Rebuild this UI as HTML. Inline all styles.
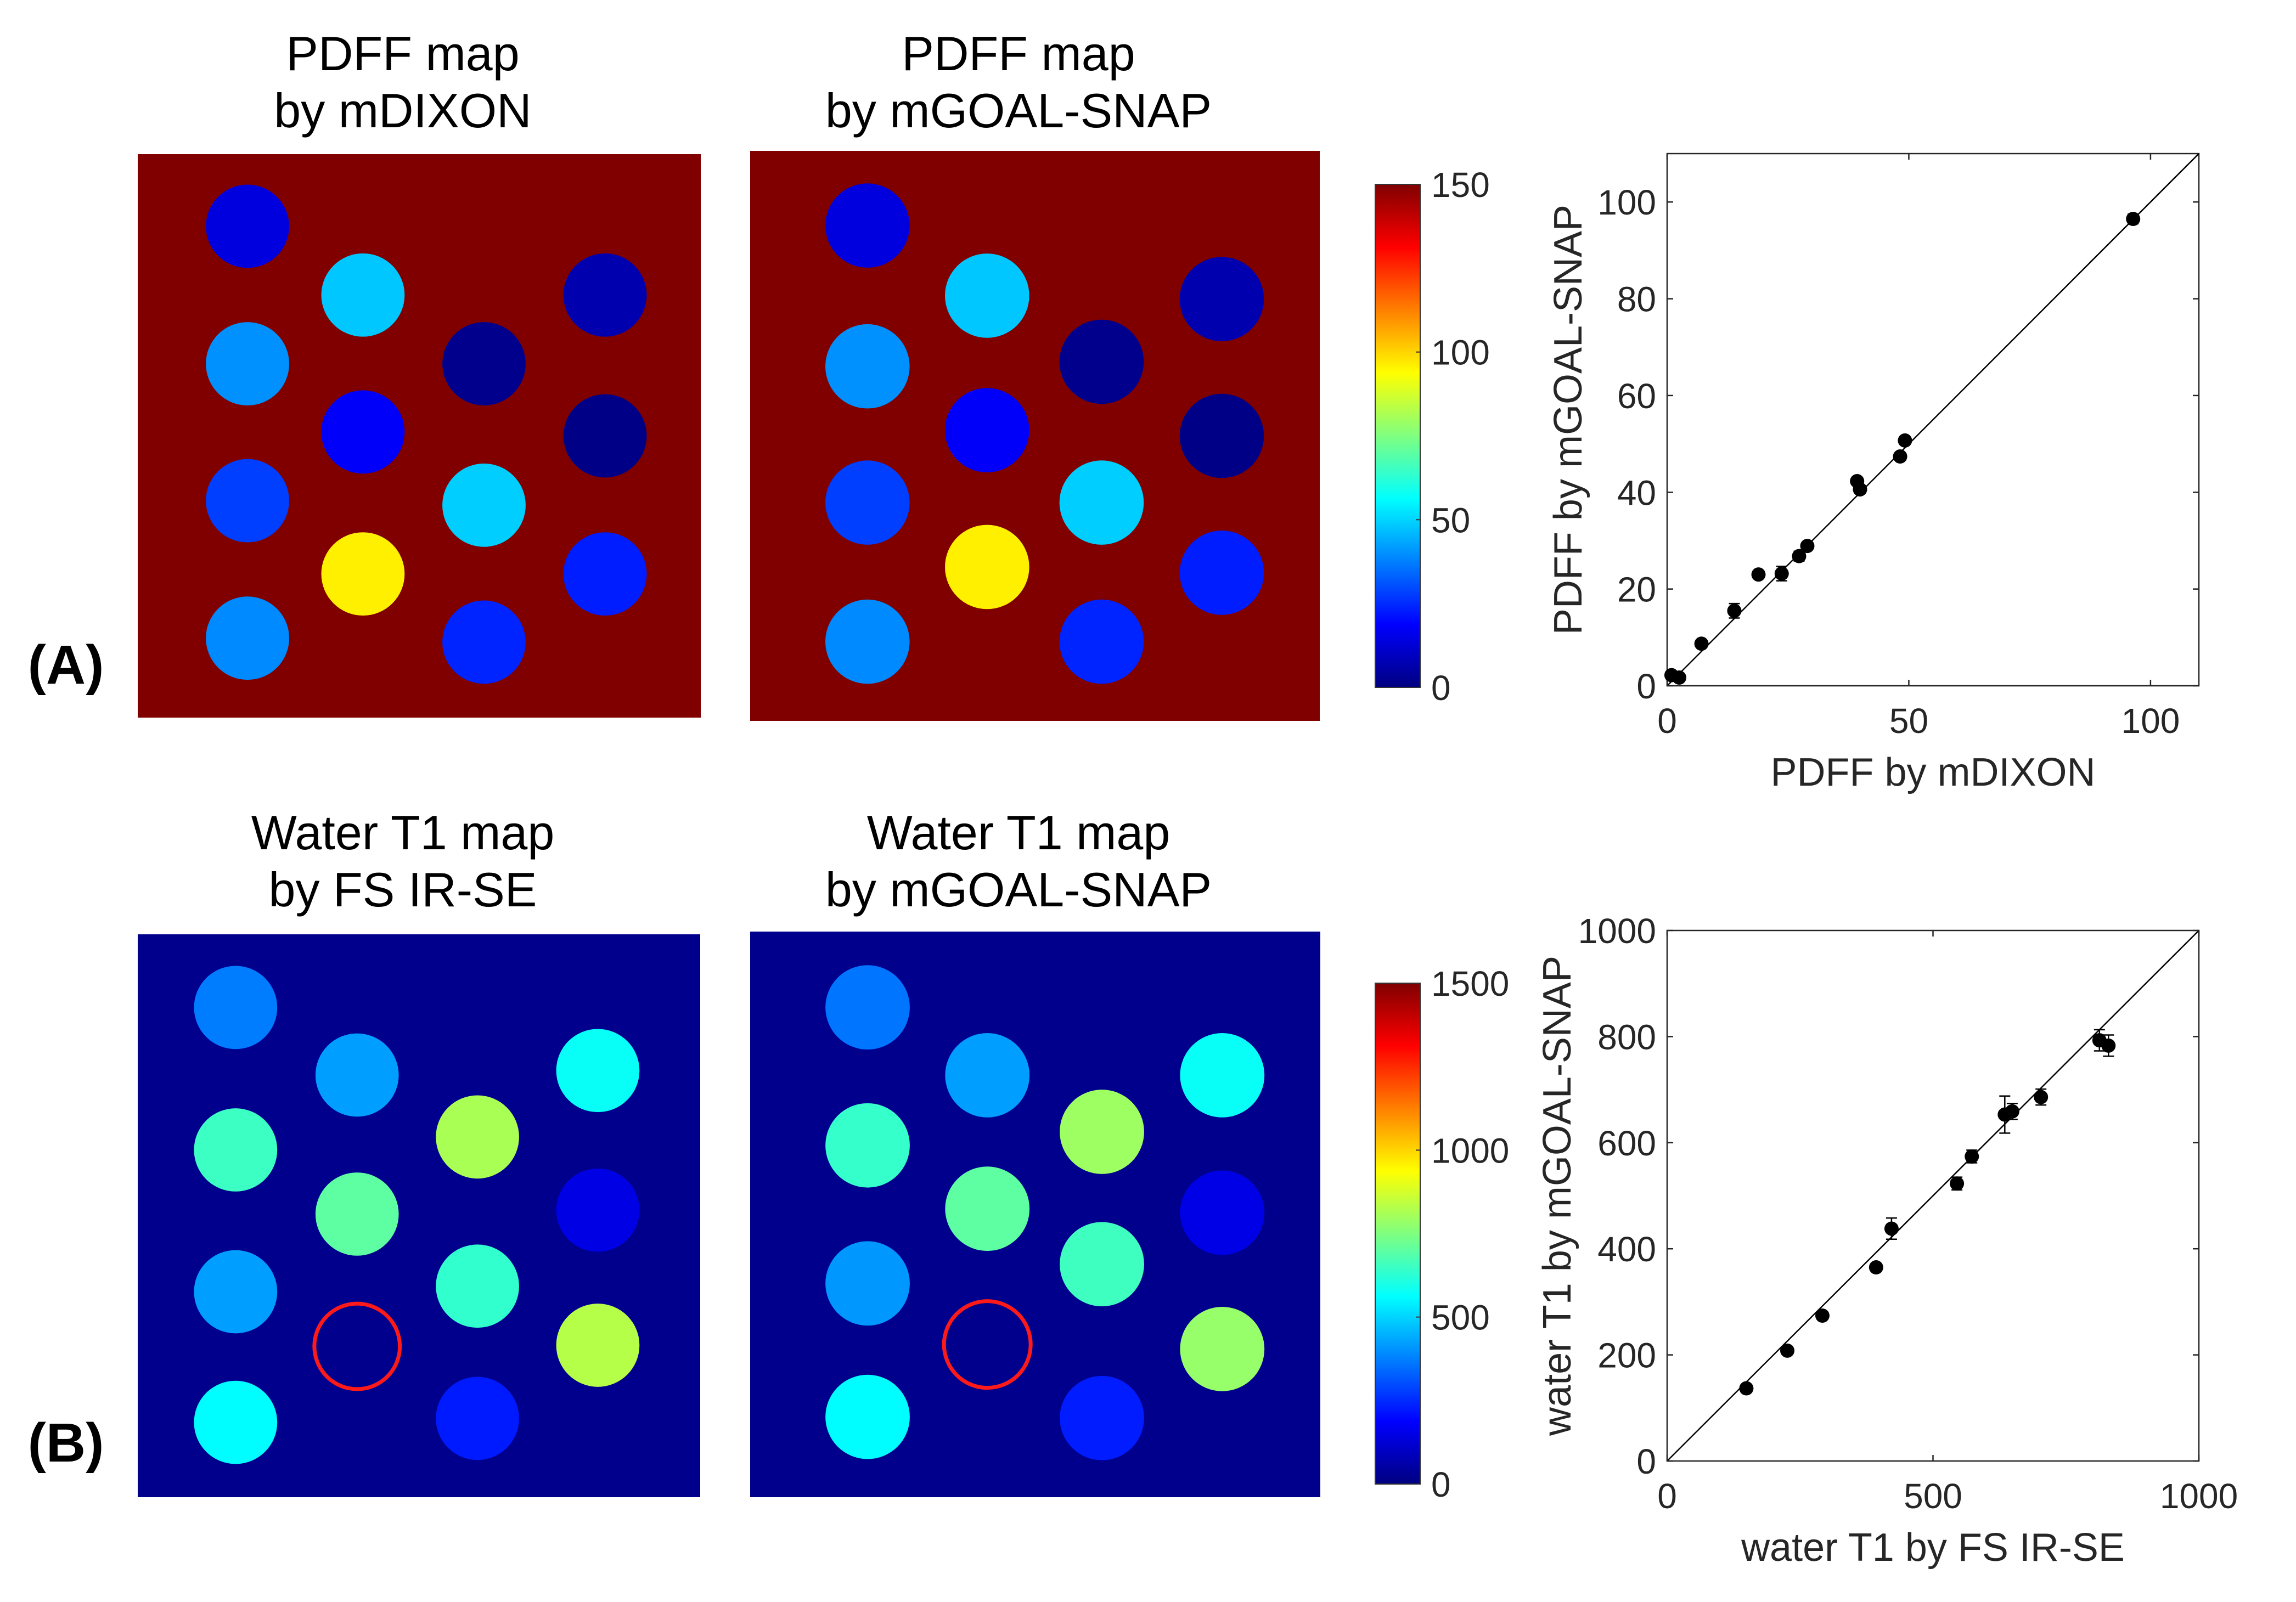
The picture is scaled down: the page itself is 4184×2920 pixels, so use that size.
<!DOCTYPE html>
<html><head><meta charset="utf-8"><style>
html,body{margin:0;padding:0;background:#fff}
svg{display:block;font-family:"Liberation Sans",sans-serif}
</style></head><body>
<svg id="fig" width="4184" height="2920" viewBox="0 0 4184 2920" xmlns="http://www.w3.org/2000/svg">
<defs>
<linearGradient id="jet" x1="0" y1="1" x2="0" y2="0">
<stop offset="0" stop-color="#000080"/><stop offset="0.125" stop-color="#0000ff"/><stop offset="0.375" stop-color="#00ffff"/><stop offset="0.625" stop-color="#ffff00"/><stop offset="0.875" stop-color="#ff0000"/><stop offset="1" stop-color="#800000"/>
</linearGradient>
</defs>
<g font-size="88" fill="#000" text-anchor="middle">
<text x="734" y="128">PDFF map</text>
<text x="734" y="232">by mDIXON</text>
<text x="1856" y="128">PDFF map</text>
<text x="1856" y="232">by mGOAL-SNAP</text>
<text x="734" y="1548">Water T1 map</text>
<text x="734" y="1652">by FS IR-SE</text>
<text x="1856" y="1548">Water T1 map</text>
<text x="1856" y="1652">by mGOAL-SNAP</text>
</g>
<text x="120" y="1246" font-size="100" font-weight="bold" text-anchor="middle">(A)</text>
<text x="120" y="2664" font-size="100" font-weight="bold" text-anchor="middle">(B)</text>
<g id="maps"></g>
<g id="colorbars"></g>
<g id="plots"></g>
</svg>
<script>
// ---- phantom map values ----
const pdffMdixon = [14, 40, 28, 39, 48, 18, 96, 2, 49, 24, 7, 1, 23];
const pdffMgoal  = [14, 40, 28, 39, 48, 18, 96, 2, 49, 24, 7, 1, 23];
const t1Fsirse   = [370, 650, 420, 560, 420, 700, 813, 635, 226, 573, 149, 830];
const t1Mgoal    = [360, 640, 410, 560, 420, 700, 793, 655, 228, 573, 150, 783];
// ---- scatter data ----
const pdffX   = [0.9, 2.5, 7.1, 13.9, 18.9, 23.7, 27.3, 29.0, 39.3, 39.9, 48.2, 49.2, 96.4];
const pdffY   = [2.2, 1.7, 8.7, 15.5, 23.0, 23.2, 26.8, 28.9, 42.3, 40.6, 47.4, 50.7, 96.5];
const pdffErr = [0.5, 0.5, 0.8, 1.5, 0.7, 1.5, 1.0, 0.7, 0.6, 0.6, 0.6, 0.6, 1.0];
const t1X   = [149, 226, 292, 393, 422, 545, 573, 635, 649, 703, 813, 830];
const t1Y   = [137, 208, 274, 365, 438, 523, 574, 653, 659, 686, 793, 783];
const t1Err = [5, 5, 5, 6, 20, 12, 12, 35, 15, 15, 20, 20];
const pdffTicksX = [0, 50, 100];
const pdffTicksY = [0, 20, 40, 60, 80, 100];
const t1TicksX = [0, 500, 1000];
const t1TicksY = [0, 200, 400, 600, 800, 1000];
const cbTicksA = [0, 50, 100, 150];
const cbTicksB = [0, 500, 1000, 1500];

const NS = 'http://www.w3.org/2000/svg';
function mk(tag, attrs, parent){ const e=document.createElementNS(NS,tag); for(const k in attrs) e.setAttribute(k,attrs[k]); parent.appendChild(e); return e; }
function jet(v){
  v=Math.max(0,Math.min(1,v));
  const c=x=>Math.round(255*Math.max(0,Math.min(1,x)));
  const r=c(Math.min(4*v-1.5,-4*v+4.5)), g=c(Math.min(4*v-0.5,-4*v+3.5)), b=c(Math.min(4*v+0.5,-4*v+2.5));
  return `rgb(${r},${g},${b})`;
}
const mapsG=document.getElementById('maps');
const layoutA1=[[.195,.128],[.195,.372],[.195,.615],[.195,.859],[.40,.25],[.40,.493],[.40,.745],[.615,.372],[.615,.623],[.615,.866],[.83,.25],[.83,.50],[.83,.745]];
const layoutA2=[[.206,.131],[.206,.378],[.206,.617],[.206,.861],[.416,.254],[.416,.49],[.416,.73],[.617,.37],[.617,.617],[.617,.861],[.828,.26],[.828,.50],[.828,.74]];
const layoutB1=[[.174,.13],[.174,.383],[.174,.635],[.174,.867],[.39,.25],[.39,.497],[.604,.36],[.604,.625],[.604,.86],[.818,.242],[.818,.49],[.818,.73]];
const layoutB2=[[.206,.134],[.206,.378],[.206,.622],[.206,.858],[.416,.254],[.416,.49],[.617,.354],[.617,.588],[.617,.86],[.828,.254],[.828,.497],[.828,.738]];
function drawMap(name,x,y,w,h,bg,vals,vmax,layout,ring){
  const g=mk('g',{},mapsG);
  
  
  const r=mk('rect',{x:x,y:y,width:w,height:h,fill:bg},g);
  
  
  vals.forEach((v,i)=>{
    const p=layout[i];
    const c=mk('circle',{cx:x+p[0]*w,cy:y+p[1]*h,r:0.074*w,fill:jet(v/vmax)},g);
    
    
  });
  if(ring){
    const c=mk('circle',{cx:x+ring[0]*w,cy:y+ring[1]*h,r:0.076*w,fill:'none',stroke:'#ff1a1a','stroke-width':7},g);
    
    
  }
}
drawMap('pdff-map-mdixon',251,281,1026,1027,'#800000',pdffMdixon,150,layoutA1,null);
drawMap('pdff-map-mgoal',1367,275,1038,1039,'#800000',pdffMgoal,150,layoutA2,null);
drawMap('t1-map-fsirse',251,1703,1025,1026,'#00008c',t1Fsirse,1500,layoutB1,[.39,.732]);
drawMap('t1-map-mgoal',1367,1698,1039,1031,'#00008c',t1Mgoal,1500,layoutB2,[.416,.73]);

const cbG=document.getElementById('colorbars');
function drawCB(name,x,y0,y1,ticks,vmax){
  const g=mk('g',{},cbG);
  
  
  const r=mk('rect',{x:x,y:y0,width:82,height:y1-y0,fill:'url(#jet)',stroke:'#333','stroke-width':2},g);
  
  
  ticks.forEach(t=>{
    const yy=y1-(t/vmax)*(y1-y0);
    mk('line',{x1:x+82-8,y1:yy,x2:x+82,y2:yy,stroke:'#333','stroke-width':2},g);
    const tx=mk('text',{x:x+102,y:yy+23,'font-size':64,fill:'#262626'},g);
    tx.textContent=t;
    
    
  });
}
drawCB('colorbar-pdff',2506,336,1253,cbTicksA,150);
drawCB('colorbar-t1',2506,1792,2705,cbTicksB,1500);

const plotsG=document.getElementById('plots');
function drawPlot(name,L,R,T,B,max,xs,ys,es,tx,ty,xlabel,ylabel,ylabX){
  const g=mk('g',{},plotsG);
  
  
  const sx=v=>L+(v/max)*(R-L), sy=v=>B-(v/max)*(B-T);
  mk('rect',{x:L,y:T,width:R-L,height:B-T,fill:'#fff',stroke:'#262626','stroke-width':2.5},g);
  const idl=mk('line',{x1:sx(0),y1:sy(0),x2:sx(max),y2:sy(max),stroke:'#000','stroke-width':2.5},g);
  
  
  tx.forEach(t=>{
    const x=sx(t);
    mk('line',{x1:x,y1:B,x2:x,y2:B-11,stroke:'#262626','stroke-width':2.5},g);
    mk('line',{x1:x,y1:T,x2:x,y2:T+11,stroke:'#262626','stroke-width':2.5},g);
    const e=mk('text',{x:x,y:B+86,'font-size':64,fill:'#262626','text-anchor':'middle'},g);
    e.textContent=t;
    
    
  });
  ty.forEach(t=>{
    const y=sy(t);
    mk('line',{x1:L,y1:y,x2:L+11,y2:y,stroke:'#262626','stroke-width':2.5},g);
    mk('line',{x1:R,y1:y,x2:R-11,y2:y,stroke:'#262626','stroke-width':2.5},g);
    const e=mk('text',{x:L-20,y:y+23,'font-size':64,fill:'#262626','text-anchor':'end'},g);
    e.textContent=t;
    
    
  });
  xs.forEach((v,i)=>{
    const cx=sx(v), cy=sy(ys[i]), ey0=sy(ys[i]-es[i]), ey1=sy(ys[i]+es[i]);
    const eb=mk('path',{d:`M${cx},${ey0}V${ey1}M${cx-10},${ey0}H${cx+10}M${cx-10},${ey1}H${cx+10}`,stroke:'#000','stroke-width':2.5,fill:'none'},g);
    
    
    const c=mk('circle',{cx:cx,cy:cy,r:13,fill:'#000'},g);
    
    
  });
  const xl=mk('text',{x:(L+R)/2,y:B+182,'font-size':72,fill:'#262626','text-anchor':'middle'},g);
  xl.textContent=xlabel;
  
  
  const yc=(T+B)/2;
  const yl=mk('text',{x:ylabX,y:yc,'font-size':72,fill:'#262626','text-anchor':'middle',transform:`rotate(-90 ${ylabX} ${yc})`},g);
  yl.textContent=ylabel;
  
  
}
drawPlot('pdff-scatter',3038,4007,280,1250,110,pdffX,pdffY,pdffErr,pdffTicksX,pdffTicksY,'PDFF by mDIXON','PDFF by mGOAL-SNAP',2882);
drawPlot('t1-scatter',3038,4007,1696,2663,1000,t1X,t1Y,t1Err,t1TicksX,t1TicksY,'water T1 by FS IR-SE','water T1 by mGOAL-SNAP',2862);
</script>
</body></html>
